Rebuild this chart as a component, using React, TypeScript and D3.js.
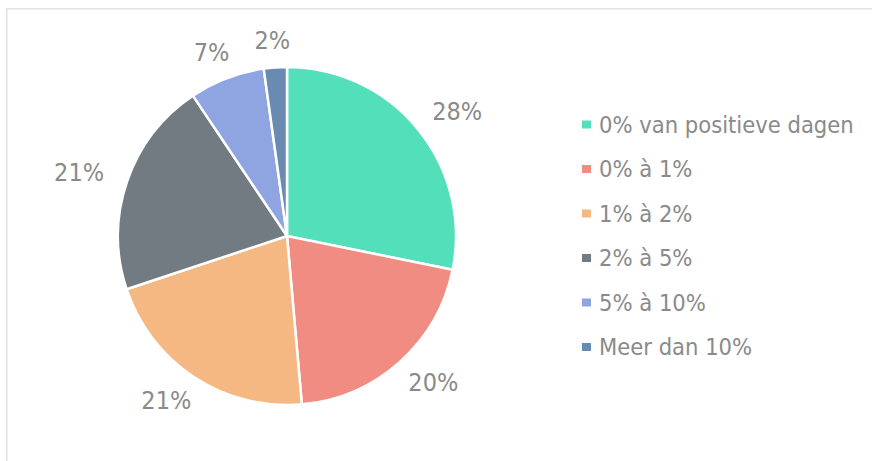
import React from 'react';
import { pie, arc, PieArcDatum } from 'd3';

const categories = ['0% van positieve dagen', '0% à 1%', '1% à 2%', '2% à 5%', '5% à 10%', 'Meer dan 10%'];
const values = [28.2, 20.4, 21.3, 20.7, 7.2, 2.2];
const colors = ['#53dfba', '#f08c81', '#f5b883', '#737b82', '#8fa5e1', '#6a8bb1'];

const W = 872;
const H = 461;
const CX = 287;
const CY = 236;
const R = 169;
const FONT = "'DejaVu Sans Condensed', 'DejaVu Sans', sans-serif";
const TEXT = '#8a8a8a';
const LABEL_FS = 25;

export default function App() {
  const total = values.reduce((a, b) => a + b, 0);
  const slices = pie<number>().sort(null).value((d) => d)(values);
  const arcGen = arc<PieArcDatum<number>>().innerRadius(0).outerRadius(R);

  // labels sit just outside the rim, box pushed outward along the mid angle
  const labelPos = (s: PieArcDatum<number>, txt: string) => {
    const a = (s.startAngle + s.endAngle) / 2;
    const sx = Math.sin(a);
    const cy = -Math.cos(a);
    const halfW = (txt.length * 0.66 * LABEL_FS) / 2;
    const halfH = LABEL_FS * 0.45;
    return {
      x: CX + (R + 26) * sx + sx * halfW,
      y: CY + (R + 16) * cy + cy * halfH,
    };
  };

  return (
    <div style={{ position: 'absolute', left: 0, top: 0, width: W, height: H, background: '#fff' }}>
      <svg width={W} height={H} style={{ display: 'block', fontFamily: FONT }}>
        <rect x={6.75} y={8.75} width={W + 10} height={H + 10} fill="#fff" stroke="#e2e2e2" strokeWidth={1.5} />
        <g transform={`translate(${CX},${CY})`}>
          {slices.map((s, i) => (
            <path key={categories[i]} d={arcGen(s) || ''} fill={colors[i]} stroke="#fff" strokeWidth={2.5} strokeLinejoin="round" />
          ))}
        </g>
        {slices.map((s, i) => {
          const txt = `${Math.round((s.value / total) * 100)}%`;
          const p = labelPos(s, txt);
          return (
            <text key={categories[i]} x={p.x} y={p.y} textAnchor="middle" dominantBaseline="central" fontSize={LABEL_FS} fill={TEXT}>
              {txt}
            </text>
          );
        })}
        <g transform="translate(582,124.5)">
          {categories.map((c, i) => (
            <g key={c} transform={`translate(0,${i * 44.5})`}>
              <rect x={0} y={-4} width={9} height={8} fill={colors[i]} />
              <text x={17} y={0} dominantBaseline="central" fontSize={23.5} fill={TEXT}>
                {c}
              </text>
            </g>
          ))}
        </g>
      </svg>
    </div>
  );
}
